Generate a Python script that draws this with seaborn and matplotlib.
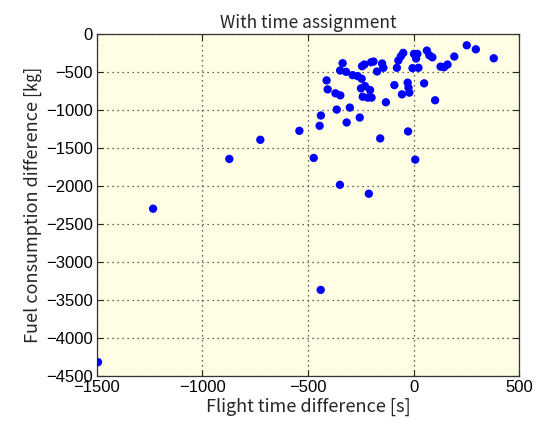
import numpy as np
import pandas as pd
import matplotlib
matplotlib.use('Agg')
import matplotlib.pyplot as plt
import seaborn as sns

# flight time difference [s] vs fuel consumption difference [kg]
time_diff = [-1495, -1234, -873, -726, -541, -473, -440, -439, -445, -412,
             -407, -370, -347, -364, -336, -348, -320, -302, -317, -349,
             -289, -265, -246, -255, -244, -233, -201, -190, -173, -149,
             -143, -249, -230, -206, -241, -217, -199, -212, -158, -131,
             -91, -79, -72, -60, -49, -28, -24, -20, -55, -26,
             8, -5, 2, 18, 12, 23, 63, 75, 89, 50,
             102, 128, 144, 161, 193, 252, 295, 380]
fuel_diff = [-4320, -2300, -1645, -1393, -1275, -1632, -3369, -1073, -1209, -611,
             -729, -781, -808, -995, -385, -481, -498, -969, -1165, -1986,
             -542, -555, -589, -1100, -424, -402, -372, -363, -494, -389,
             -445, -716, -686, -738, -826, -838, -838, -2103, -1375, -899,
             -673, -445, -349, -293, -249, -641, -707, -772, -795, -1283,
             -1654, -450, -262, -262, -323, -445, -219, -281, -307, -650,
             -873, -430, -438, -402, -297, -149, -202, -320]

df = pd.DataFrame({'time': time_diff, 'fuel': fuel_diff})

sns.set_style('ticks')
jp = ['Noto Sans CJK JP', 'DejaVu Sans']
num = ['Liberation Sans', 'DejaVu Sans']

fig = plt.figure(figsize=(5.54, 4.30), dpi=100)
ax = fig.add_axes([0.175, 0.126, 0.762, 0.795])
ax.set_facecolor('#fffee4')

sns.scatterplot(data=df, x='time', y='fuel', ax=ax, color='#0000ff',
                s=36, edgecolor='none', zorder=3)

ax.set_xlim(-1500, 500)
ax.set_ylim(-4500, 0)
ax.set_xticks(np.arange(-1500, 501, 500))
ax.set_yticks(np.arange(-4500, 1, 500))
ax.set_xticklabels([f'{v}'.replace('-', '\u2212') for v in range(-1500, 501, 500)])
ax.set_yticklabels([f'{v}'.replace('-', '\u2212') for v in range(-4500, 1, 500)])
for lab in ax.get_xticklabels() + ax.get_yticklabels():
    lab.set_family(num)
    lab.set_fontsize(12)
ax.tick_params(direction='in', length=4, width=0.8, colors='#222222',
               top=True, right=True, pad=3)
ax.tick_params(labelcolor='black')
ax.grid(True, linestyle=(0, (1, 3)), color='#333333', linewidth=0.9)
ax.set_axisbelow(True)
for sp in ax.spines.values():
    sp.set_color('#333333')
    sp.set_linewidth(0.9)

ax.set_xlabel('Flight time difference [s]', family=jp, fontsize=13, labelpad=2)
ax.set_ylabel('Fuel consumption difference [\u338f]', family=jp, fontsize=13, labelpad=3)
ax.set_title('With time assignment', family=jp, fontsize=12.5, pad=4)

fig.savefig('out.png', dpi=100)
